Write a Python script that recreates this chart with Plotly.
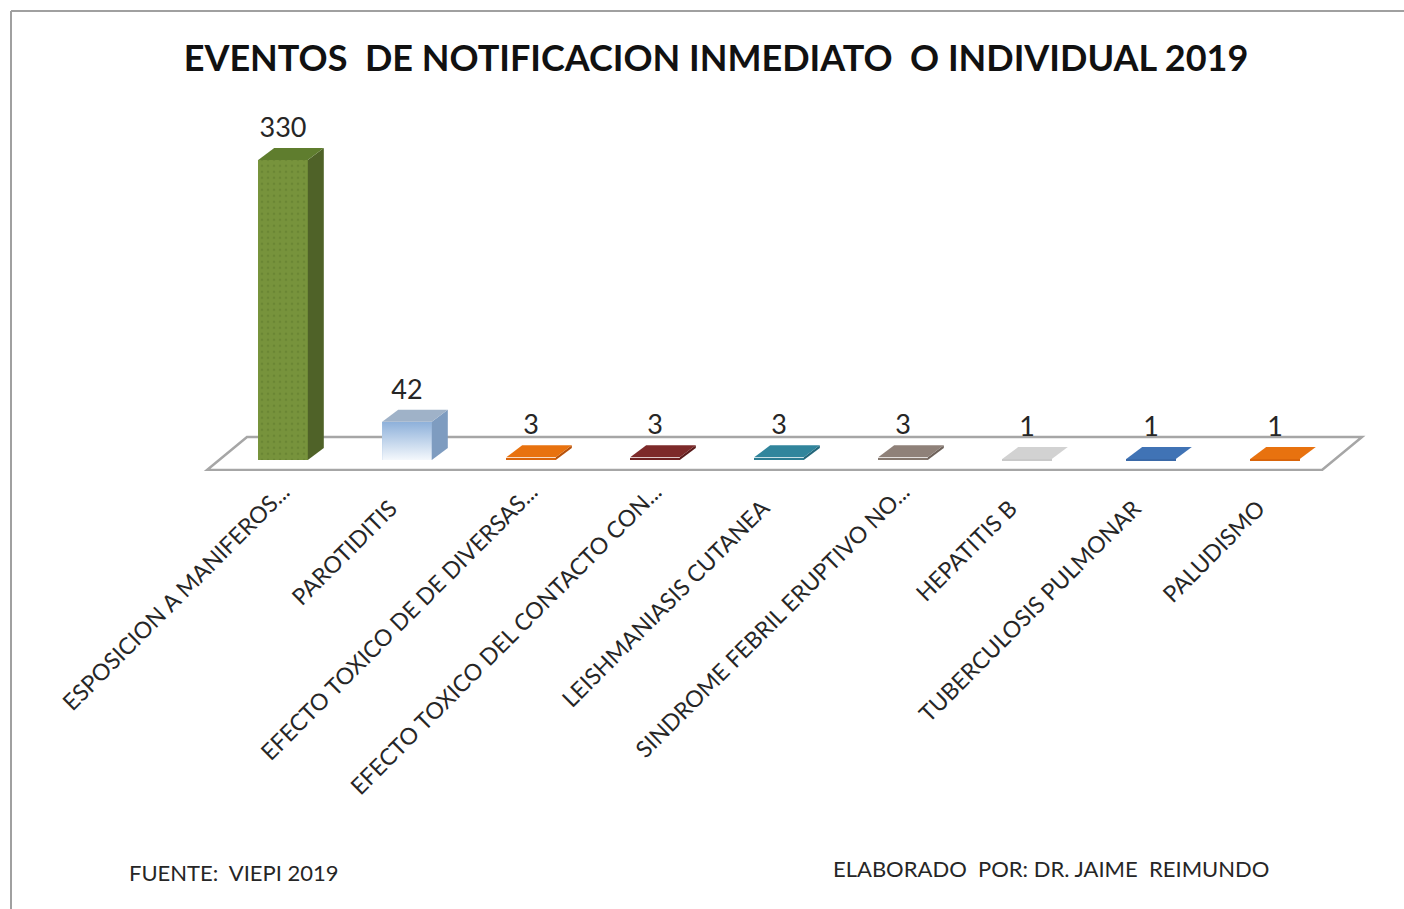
import plotly.graph_objects as go

# ---- data ----
categories = [
    "ESPOSICION A MANIFEROS...",
    "PAROTIDITIS",
    "EFECTO TOXICO DE DE DIVERSAS...",
    "EFECTO TOXICO DEL CONTACTO CON...",
    "LEISHMANIASIS CUTANEA",
    "SINDROME FEBRIL ERUPTIVO NO...",
    "HEPATITIS B",
    "TUBERCULOSIS PULMONAR",
    "PALUDISMO",
]
values = [330, 42, 3, 3, 3, 3, 1, 1, 1]
front_colors = ["#77933C", "#A9C4E4", "#D9650B", "#6E2222", "#2D7C92",
                "#85786F", "#C9C9C9", "#3A69A8", "#D9650B"]
side_colors = ["#4F6228", "#7E9CC0", "#B8520A", "#5A1B1B", "#23667A",
               "#6E625B", "#ABABAB", "#2F578C", "#B8520A"]
top_colors = ["#5F7D2E", "#9FB2C8", "#E8720F", "#7D2A2A", "#31859C",
              "#8F8179", "#D2D2D2", "#4073B5", "#E8720F"]
title_text = "EVENTOS  DE NOTIFICACION INMEDIATO  O INDIVIDUAL 2019"
source_text = "FUENTE:\u00a0\u00a0VIEPI 2019"
author_text = "ELABORADO\u00a0\u00a0POR: DR. JAIME\u00a0\u00a0REIMUNDO"

# ---- geometry (pixel layout of the page) ----
W, H = 1404, 909
PX_PER_CAT = 124.0
X0_PX = 283.0          # pixel x of first category
PX_PER_UNIT = 0.909
Y0_PX = 460.0          # pixel y of value 0
x_range = [-1.5, 8.95]
y_range = [-12, 360]
x_dom = [(X0_PX + PX_PER_CAT * x_range[0]) / W, (X0_PX + PX_PER_CAT * x_range[1]) / W]
y_dom = [(H - (Y0_PX - PX_PER_UNIT * y_range[0])) / H, (H - (Y0_PX - PX_PER_UNIT * y_range[1])) / H]

BAR_W = 0.4
DX = 16 / PX_PER_CAT       # depth offset (category units)
DY = 12 / PX_PER_UNIT      # depth offset (value units)

# labels that are not truncated carry trailing padding (as in the source chart)
tick_text = [c if c.endswith("...") else c + "\u00a0" * 4 for c in categories]

fig = go.Figure()

xs = list(range(len(categories)))

# front faces
for i, v in enumerate(values):
    pattern = dict(shape=".", fgcolor="#5E7A2C", size=6, solidity=0.15) if i == 0 else None
    fig.add_trace(go.Bar(
        x=[i], y=[v], width=BAR_W, base=0,
        marker=dict(color=front_colors[i], line=dict(width=0), pattern=pattern),
        hoverinfo="skip", showlegend=False))

# gradient overlay for the light-blue bar
i = 1
v = values[i]
fig.add_trace(go.Scatter(
    x=[i - BAR_W / 2, i + BAR_W / 2, i + BAR_W / 2, i - BAR_W / 2, i - BAR_W / 2],
    y=[0, 0, v, v, 0], mode="lines", line=dict(width=0),
    fill="toself",
    fillgradient=dict(type="vertical", colorscale=[[0, "#F4F8FC"], [1, "#8DB0DA"]]),
    hoverinfo="skip", showlegend=False))

# side and top faces
for i, v in enumerate(values):
    r = i + BAR_W / 2
    l = i - BAR_W / 2
    fig.add_trace(go.Scatter(
        x=[r, r + DX, r + DX, r, r], y=[0, DY, v + DY, v, 0],
        mode="lines", fill="toself", fillcolor=side_colors[i],
        line=dict(width=0), hoverinfo="skip", showlegend=False))
    fig.add_trace(go.Scatter(
        x=[l, r, r + DX, l + DX, l], y=[v, v, v + DY, v + DY, v],
        mode="lines", fill="toself", fillcolor=top_colors[i],
        line=dict(width=0), hoverinfo="skip", showlegend=False))

# data labels
fig.add_trace(go.Scatter(
    x=xs, y=[v + DY + 5 for v in values], mode="text",
    text=[str(v) for v in values], textposition="top center",
    textfont=dict(family="Lato, sans-serif", size=27, color="#262626"),
    cliponaxis=False, hoverinfo="skip", showlegend=False))

# floor (drawn below the bars)
fx0, fx1 = -0.613, 8.379
fdx = 40 / PX_PER_CAT
fy0, fy1 = -11, 25.3
floor_path = (f"M {fx0},{fy0} L {fx1},{fy0} L {fx1 + fdx},{fy1} "
              f"L {fx0 + fdx},{fy1} Z")

fig.update_layout(
    width=W, height=H,
    margin=dict(l=0, r=0, t=0, b=0, autoexpand=False),
    paper_bgcolor="white", plot_bgcolor="rgba(0,0,0,0)",
    title=dict(text="<b>" + title_text + "</b>", x=0.51, xanchor="center",
               y=1 - 58 / H, yanchor="middle",
               font=dict(family="Lato, sans-serif", size=36, color="#111111")),
    xaxis=dict(domain=x_dom, range=x_range, tickmode="array", tickvals=xs,
               ticktext=tick_text, tickangle=-45, showgrid=False, zeroline=False,
               showline=False, ticks="", ticklabelstandoff=2, automargin=False,
               tickfont=dict(family="Lato, sans-serif", size=23, color="#262626")),
    yaxis=dict(domain=y_dom, range=y_range, visible=False, automargin=False),
    bargap=0,
    shapes=[
        dict(type="path", xref="x", yref="y", path=floor_path, layer="below",
             fillcolor="white", line=dict(color="#A6A6A6", width=2.5)),
        dict(type="line", xref="paper", yref="paper", x0=11 / W, x1=1.0,
             y0=1 - 11 / H, y1=1 - 11 / H, line=dict(color="#A0A0A0", width=2)),
        dict(type="line", xref="paper", yref="paper", x0=11 / W, x1=11 / W,
             y0=0, y1=1 - 11 / H, line=dict(color="#A0A0A0", width=2)),
    ],
    annotations=[
        dict(text=source_text, xref="paper", yref="paper", x=127 / W, y=1 - 872 / H,
             xanchor="left", yanchor="middle", showarrow=False,
             font=dict(family="Lato, sans-serif", size=22, color="#262626")),
        dict(text=author_text, xref="paper", yref="paper", x=831 / W, y=1 - 868 / H,
             xanchor="left", yanchor="middle", showarrow=False,
             font=dict(family="Lato, sans-serif", size=22, color="#262626")),
    ],
)

fig.write_html("out.html", config={"displayModeBar": False},
               post_script="document.body.style.margin='0';")
